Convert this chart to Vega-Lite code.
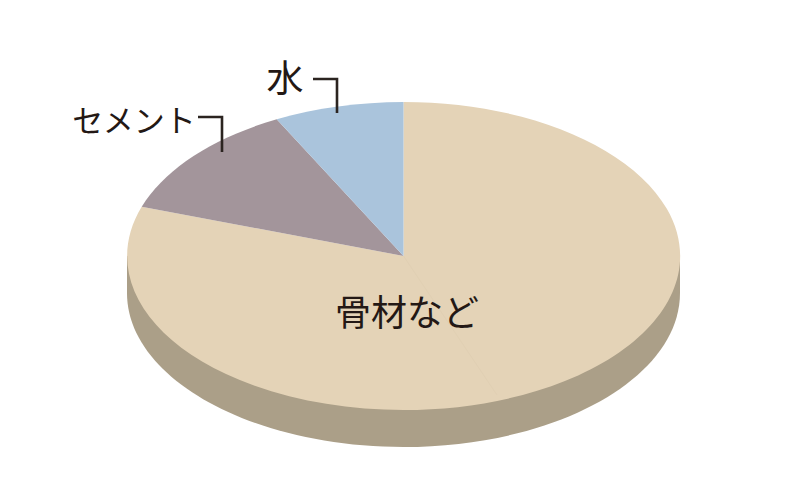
{"$schema":"https://vega.github.io/schema/vega-lite/v6.json","width":800,"height":500,"padding":0,"autosize":{"type":"fit","contains":"padding"},"background":"#ffffff","view":{"stroke":null},"data":{"values":[{"material":"骨材など","share":79},{"material":"セメント","share":13},{"material":"水","share":8}]},"layer":[{"transform":[{"filter":"datum.material==='骨材など'"}],"mark":{"type":"point","filled":true,"opacity":1,"size":4,"strokeWidth":0,"color":"#ab9f88"},"encoding":{"shape":{"value":"M-273 6 L-273 43 A276.5 154 0 0 0 280 43 L280 6 Z"}}},{"transform":[{"filter":"datum.material==='骨材など'"}],"mark":{"type":"point","filled":true,"opacity":1,"size":4,"strokeWidth":0,"color":"#e4d3b7"},"encoding":{"shape":{"value":"M3.5 6 L3.5 -148 A276.5 154 0 1 1 -258.3 -43.3 Z"}}},{"transform":[{"filter":"datum.material==='セメント'"}],"mark":{"type":"point","filled":true,"opacity":1,"size":4,"strokeWidth":0,"color":"#a3959b"},"encoding":{"shape":{"value":"M3.5 6 L-258.3 -43.3 A276.5 154 0 0 1 -123.3 -130.7 Z"}}},{"transform":[{"filter":"datum.material==='水'"}],"mark":{"type":"point","filled":true,"opacity":1,"size":4,"strokeWidth":0,"color":"#aac4dc"},"encoding":{"shape":{"value":"M3.5 6 L-123.3 -130.7 A276.5 154 0 0 1 3.5 -148 Z"}}},{"transform":[{"filter":"datum.material==='骨材など'"}],"mark":{"type":"point","filled":false,"opacity":0.4,"size":4,"strokeWidth":1,"color":"#dccbae"},"encoding":{"shape":{"value":"M3.5 6 L97 145"}}},{"transform":[{"filter":"datum.material==='セメント'"}],"mark":{"type":"point","filled":false,"opacity":1,"size":4,"strokeWidth":2.6,"color":"#2b2420"},"encoding":{"shape":{"value":"M-202 -133 L-178 -133 L-178 -98"}}},{"transform":[{"filter":"datum.material==='水'"}],"mark":{"type":"point","filled":false,"opacity":1,"size":4,"strokeWidth":2.6,"color":"#2b2420"},"encoding":{"shape":{"value":"M-87 -171 L-63 -171 L-63 -137"}}},{"transform":[{"filter":"datum.material==='骨材など'"}],"mark":{"type":"text","font":"Noto Sans CJK JP","fontSize":36,"color":"#231815","dx":7,"dy":65},"encoding":{"text":{"field":"material"}}},{"transform":[{"filter":"datum.material==='セメント'"}],"mark":{"type":"text","font":"Noto Sans CJK JP","fontSize":31,"color":"#231815","dx":-266,"dy":-127},"encoding":{"text":{"field":"material"}}},{"transform":[{"filter":"datum.material==='水'"}],"mark":{"type":"text","font":"Noto Sans CJK JP","fontSize":37,"color":"#231815","dx":-115,"dy":-169},"encoding":{"text":{"field":"material"}}}]}
